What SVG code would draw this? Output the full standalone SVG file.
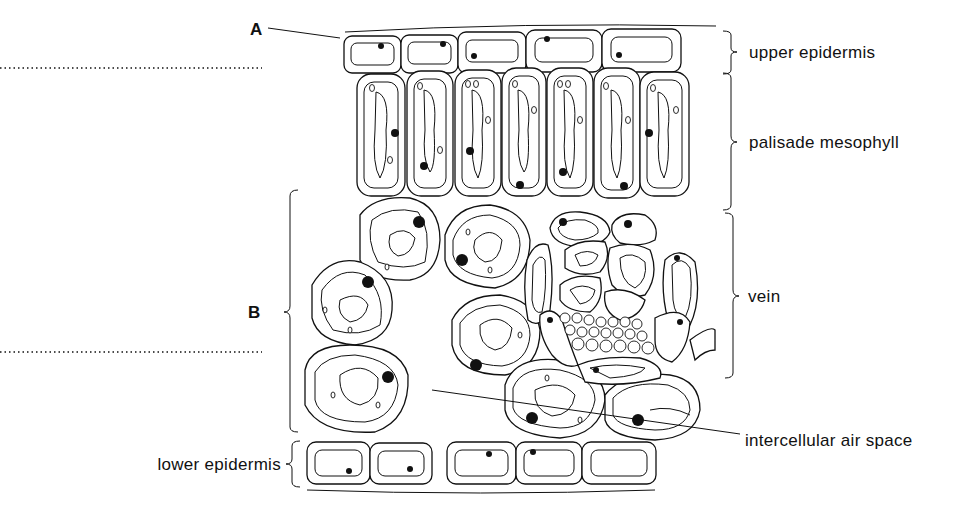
<svg xmlns="http://www.w3.org/2000/svg" width="953" height="507" viewBox="0 0 953 507">
<style>
.c{fill:#fff;stroke:#111;stroke-width:1.3}
.i{fill:none;stroke:#111;stroke-width:1}
.n{fill:#111}
.o{fill:#fff;stroke:#111;stroke-width:0.9}
.t{font-family:"Liberation Sans",Arial,sans-serif;font-size:17px;letter-spacing:0.3px;fill:#111}
.b{font-weight:bold}
.l{fill:none;stroke:#111;stroke-width:1}
.d{fill:none;stroke:#111;stroke-width:1.6;stroke-dasharray:1.5 3}
</style>
<rect width="953" height="507" fill="#fff"/>
<g id="tissue">
<path class="l" d="M345 32 Q520 22 716 26"/>
<g id="upper-epidermis">
<rect class="c" x="344" y="36" width="57" height="37" rx="8"/><rect class="i" x="351" y="43" width="43" height="22" rx="6"/><circle class="n" cx="381" cy="46" r="3"/>
<rect class="c" x="401" y="35" width="57" height="38" rx="8"/><rect class="i" x="408" y="42" width="43" height="22" rx="6"/><circle class="n" cx="443" cy="44" r="3"/>
<rect class="c" x="458" y="32" width="68" height="41" rx="8"/><rect class="i" x="466" y="40" width="52" height="22" rx="6"/><circle class="n" cx="474" cy="56" r="3"/>
<rect class="c" x="526" y="30" width="76" height="42" rx="9"/><rect class="i" x="535" y="38" width="58" height="24" rx="7"/><circle class="n" cx="547" cy="39" r="3"/>
<rect class="c" x="602" y="29" width="79" height="43" rx="9"/><rect class="i" x="611" y="37" width="61" height="25" rx="7"/><circle class="n" cx="619" cy="55" r="3"/>
</g>
<g id="palisade">
<rect class="c" x="357" y="74" width="48" height="122" rx="14"/><rect class="i" x="364" y="82" width="34" height="106" rx="10"/><path class="i" d="M376 92 Q390 95 386 130 Q388 165 380 178 Q372 165 375 130 Z"/><circle class="n" cx="395" cy="133" r="4"/>
<rect class="c" x="407" y="71" width="46" height="125" rx="14"/><rect class="i" x="414" y="79" width="32" height="109" rx="10"/><path class="i" d="M424 90 Q438 92 434 130 Q436 165 430 172 Q422 160 425 130 Z"/><circle class="n" cx="424" cy="166" r="4"/>
<rect class="c" x="455" y="70" width="46" height="126" rx="14"/><rect class="i" x="462" y="78" width="32" height="110" rx="10"/><path class="i" d="M472 90 Q486 92 482 130 Q484 165 478 178 Q470 165 473 130 Z"/><circle class="n" cx="470" cy="151" r="4"/>
<rect class="c" x="502" y="68" width="44" height="128" rx="14"/><rect class="i" x="509" y="76" width="30" height="112" rx="10"/><path class="i" d="M518 90 Q532 92 528 130 Q530 165 524 172 Q516 160 519 130 Z"/><circle class="n" cx="520" cy="185" r="4"/>
<rect class="c" x="547" y="68" width="46" height="128" rx="14"/><rect class="i" x="554" y="76" width="32" height="112" rx="10"/><path class="i" d="M564 90 Q578 92 574 130 Q576 165 570 178 Q562 165 565 130 Z"/><circle class="n" cx="563" cy="172" r="4"/>
<rect class="c" x="594" y="68" width="46" height="130" rx="14"/><rect class="i" x="601" y="76" width="32" height="114" rx="10"/><path class="i" d="M611 90 Q625 92 621 130 Q623 165 617 178 Q609 165 612 130 Z"/><circle class="n" cx="624" cy="186" r="4"/>
<rect class="c" x="640" y="72" width="49" height="124" rx="14"/><rect class="i" x="647" y="80" width="35" height="108" rx="10"/><path class="i" d="M658 92 Q672 95 668 130 Q670 165 664 178 Q656 165 659 130 Z"/><circle class="n" cx="649" cy="133" r="4"/>
<g class="o"><ellipse cx="372" cy="88" rx="2.5" ry="3.5"/><ellipse cx="420" cy="86" rx="2.5" ry="3.5"/><ellipse cx="468" cy="84" rx="2.5" ry="3.5"/><ellipse cx="476" cy="84" rx="2.5" ry="3.5"/><ellipse cx="515" cy="84" rx="2.5" ry="3.5"/><ellipse cx="560" cy="84" rx="2.5" ry="3.5"/><ellipse cx="568" cy="84" rx="2.5" ry="3.5"/><ellipse cx="606" cy="86" rx="2.5" ry="3.5"/><ellipse cx="653" cy="88" rx="2.5" ry="3.5"/><ellipse cx="390" cy="160" rx="2.5" ry="3.5"/><ellipse cx="440" cy="150" rx="2.5" ry="3.5"/><ellipse cx="488" cy="120" rx="2.5" ry="3.5"/><ellipse cx="534" cy="110" rx="2.5" ry="3.5"/><ellipse cx="580" cy="120" rx="2.5" ry="3.5"/><ellipse cx="628" cy="120" rx="2.5" ry="3.5"/><ellipse cx="676" cy="110" rx="2.5" ry="3.5"/></g>
</g>
<g id="spongy">
<path class="c" d="M360 215 Q375 195 410 198 Q440 205 440 240 Q438 275 410 280 Q370 282 360 260 Z"/><path class="i" d="M372 220 Q390 205 418 212 Q432 230 425 262 Q405 272 378 262 Q366 240 372 220 Z"/><path class="i" d="M390 235 Q405 225 415 238 Q412 255 398 256 Q386 250 390 235 Z"/><circle class="n" cx="419" cy="222" r="6"/>
<path class="c" d="M312 285 Q330 255 360 262 Q395 275 392 310 Q390 340 355 345 Q318 342 312 318 Z"/><path class="i" d="M322 290 Q340 265 365 275 Q386 295 380 325 Q360 338 333 330 Q318 310 322 290 Z"/><path class="i" d="M340 300 Q360 290 368 305 Q365 320 350 322 Q336 315 340 300 Z"/><circle class="n" cx="368" cy="282" r="6"/>
<path class="c" d="M305 370 Q310 345 350 345 Q400 345 408 375 Q410 420 375 432 Q320 435 305 405 Z"/><path class="i" d="M315 372 Q325 355 355 355 Q395 360 398 385 Q395 418 365 422 Q320 422 315 400 Z"/><path class="i" d="M340 375 Q362 360 378 378 Q380 400 360 405 Q338 400 340 375 Z"/><circle class="n" cx="388" cy="377" r="6"/>
<path class="c" d="M445 235 Q455 205 490 205 Q525 210 530 240 Q530 280 495 288 Q450 285 445 260 Z"/><path class="i" d="M453 240 Q462 215 490 215 Q520 222 520 245 Q518 275 492 278 Q458 275 453 255 Z"/><path class="i" d="M475 240 Q490 225 502 240 Q500 262 485 262 Q470 255 475 240 Z"/><circle class="n" cx="462" cy="260" r="6"/>
<path class="c" d="M452 320 Q465 295 500 295 Q535 300 540 330 Q540 368 505 375 Q458 375 452 345 Z"/><path class="i" d="M460 323 Q472 305 500 305 Q530 312 530 335 Q528 362 502 366 Q466 365 460 345 Z"/><path class="i" d="M480 325 Q498 312 512 328 Q510 348 495 350 Q478 345 480 325 Z"/><circle class="n" cx="476" cy="365" r="6"/>
<path class="c" d="M505 385 Q515 355 560 360 Q605 370 605 400 Q600 435 560 438 Q510 435 505 410 Z"/><path class="i" d="M513 388 Q522 365 560 370 Q595 378 595 400 Q590 428 560 428 Q518 425 513 408 Z"/><path class="i" d="M535 390 Q560 378 575 395 Q572 415 552 416 Q533 410 535 390 Z"/><circle class="n" cx="532" cy="418" r="6"/>
<path class="c" d="M605 395 Q625 370 670 375 Q700 380 700 410 Q695 438 655 440 Q610 438 605 420 Z"/><path class="i" d="M613 398 Q630 380 668 385 Q690 392 690 410 Q685 430 655 430 Q618 428 613 415 Z"/><circle class="n" cx="638" cy="420" r="6"/><path class="i" d="M650 410 Q670 405 690 415"/>
<path class="c" d="M550 228 Q555 210 580 212 Q608 215 610 232 Q605 245 580 247 Q552 245 550 228 Z"/><path class="i" d="M558 228 Q565 218 585 220 Q600 225 598 233 Q590 240 575 240 Q560 238 558 228 Z"/><circle class="n" cx="563" cy="222" r="4"/>
<path class="c" d="M612 225 Q620 210 645 215 Q660 225 655 240 Q640 248 620 243 Q610 235 612 225 Z"/><circle class="n" cx="628" cy="224" r="4"/>
<path class="c" d="M527 260 Q535 240 548 245 Q555 270 550 310 Q540 330 528 320 Q522 290 527 260 Z"/><path class="i" d="M533 265 Q540 252 545 260 Q547 290 542 312 Q534 315 532 300 Z"/>
<path class="c" d="M565 250 Q580 238 605 242 Q612 258 600 272 Q580 278 565 268 Z"/><path class="i" d="M575 255 Q588 248 598 255 Q595 266 580 266 Z"/>
<path class="c" d="M610 248 Q630 240 650 250 Q660 275 645 295 Q625 300 612 285 Q605 265 610 248 Z"/><path class="i" d="M620 258 Q632 250 645 262 Q648 280 635 288 Q620 282 620 258 Z"/>
<path class="c" d="M665 260 Q680 245 695 262 Q702 300 690 325 Q675 333 668 320 Q660 290 665 260 Z"/><path class="i" d="M672 265 Q682 255 690 268 Q694 300 685 318 Q675 318 673 300 Z"/><circle class="n" cx="677" cy="258" r="3"/>
<path class="c" d="M560 285 Q575 272 600 278 Q605 300 590 312 Q568 312 560 300 Z"/><path class="i" d="M570 290 Q582 282 595 290 Q593 302 580 304 Z"/>
<path class="c" d="M605 292 Q625 285 645 300 Q640 318 620 320 Q602 312 605 292 Z"/>
<path class="c" d="M540 315 Q552 305 562 320 Q570 345 578 365 Q565 370 552 355 Q538 335 540 315 Z"/><circle class="n" cx="550" cy="320" r="3"/>
<path class="c" d="M655 318 Q680 305 690 322 Q688 350 672 362 Q655 358 655 340 Z"/><circle class="n" cx="680" cy="322" r="3"/>
<path class="c" d="M578 365 Q600 355 640 358 Q665 365 660 378 Q620 388 585 382 Z"/><path class="i" d="M590 368 Q615 362 645 368 Q640 376 610 378 Z"/><circle class="n" cx="596" cy="370" r="3"/>
<path class="c" d="M690 340 Q710 325 715 330 L715 350 Q705 350 695 360 Z"/>
<g class="o"><circle cx="565" cy="318" r="5"/><circle cx="577" cy="318" r="5"/><circle cx="589" cy="320" r="5"/><circle cx="601" cy="322" r="5"/><circle cx="613" cy="322" r="5"/><circle cx="625" cy="322" r="5"/><circle cx="637" cy="324" r="5"/><circle cx="570" cy="330" r="5"/><circle cx="582" cy="332" r="5"/><circle cx="594" cy="332" r="5"/><circle cx="606" cy="333" r="5"/><circle cx="618" cy="333" r="5"/><circle cx="630" cy="334" r="5"/><circle cx="642" cy="336" r="5"/><circle cx="578" cy="344" r="6"/><circle cx="592" cy="345" r="6"/><circle cx="606" cy="346" r="6"/><circle cx="620" cy="346" r="6"/><circle cx="634" cy="347" r="6"/><circle cx="648" cy="348" r="6"/></g>
<g class="o"><ellipse cx="387" cy="267" rx="2" ry="3"/><ellipse cx="350" cy="330" rx="2" ry="3"/><ellipse cx="325" cy="310" rx="2" ry="3"/><ellipse cx="333" cy="395" rx="2" ry="3"/><ellipse cx="378" cy="405" rx="2" ry="3"/><ellipse cx="490" cy="270" rx="2" ry="3"/><ellipse cx="468" cy="232" rx="2" ry="3"/><ellipse cx="520" cy="335" rx="2" ry="3"/><ellipse cx="580" cy="420" rx="2" ry="3"/><ellipse cx="547" cy="378" rx="2" ry="3"/></g>
</g>
<g id="lower-epidermis">
<rect class="c" x="307" y="442" width="63" height="42" rx="9"/><rect class="i" x="315" y="450" width="47" height="26" rx="7"/><circle class="n" cx="349" cy="471" r="3"/>
<rect class="c" x="370" y="443" width="62" height="41" rx="9"/><rect class="i" x="378" y="451" width="46" height="25" rx="7"/><circle class="n" cx="410" cy="469" r="3"/>
<rect class="c" x="447" y="442" width="69" height="42" rx="9"/><rect class="i" x="455" y="450" width="53" height="26" rx="7"/><circle class="n" cx="489" cy="454" r="3"/>
<rect class="c" x="516" y="442" width="66" height="42" rx="9"/><rect class="i" x="524" y="450" width="50" height="26" rx="7"/><circle class="n" cx="533" cy="452" r="3"/>
<rect class="c" x="582" y="442" width="74" height="42" rx="9"/><rect class="i" x="591" y="450" width="56" height="26" rx="7"/>
<path class="l" d="M307 490 Q480 496 655 490"/>
</g>
</g>
<g id="labels">
<path class="l" d="M268 28 L340 38"/>
<text class="t b" x="250" y="35">A</text>
<path class="d" d="M0 68 H262"/>
<path class="d" d="M0 352 H262"/>
<path class="l" d="M723 31 Q731 31 731 35 V48 Q731 52 737 52 Q731 52 731 56 V70 Q731 74 723 74"/>
<text class="t" x="749" y="58">upper epidermis</text>
<path class="l" d="M723 73 Q731 73 731 78 V136 Q731 142 737 142 Q731 142 731 148 V205 Q731 210 723 210"/>
<text class="t" x="749" y="148">palisade mesophyll</text>
<path class="l" d="M725 213 Q733 213 733 218 V290 Q733 296 739 296 Q733 296 733 302 V373 Q733 378 725 378"/>
<text class="t" x="748" y="302">vein</text>
<path class="l" d="M298 190 Q290 190 290 196 V306 Q290 312 284 312 Q290 312 290 318 V427 Q290 432 298 432"/>
<text class="t b" x="248" y="318">B</text>
<path class="l" d="M300 441 Q292 441 292 446 V459 Q292 464 286 464 Q292 464 292 469 V482 Q292 487 300 487"/>
<text class="t" x="281" y="470" text-anchor="end">lower epidermis</text>
<path class="l" d="M432 390 L740 434"/>
<text class="t" x="745" y="446">intercellular air space</text>
</g>
</svg>
